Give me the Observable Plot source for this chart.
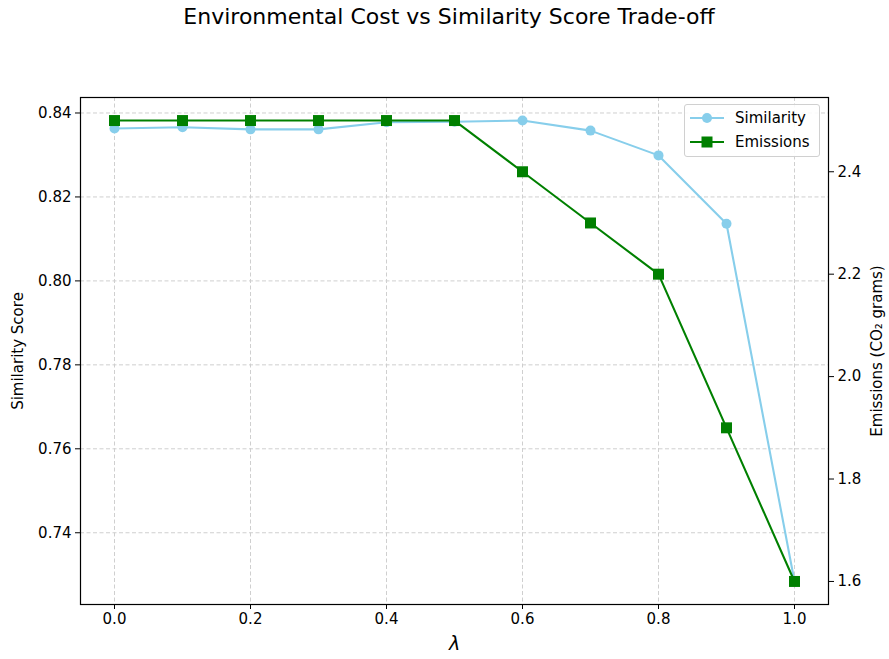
<!DOCTYPE html>
<html>
<head>
<meta charset="utf-8">
<script src="https://cdn.jsdelivr.net/npm/d3@7"></script>
<script src="https://cdn.jsdelivr.net/npm/@observablehq/plot@0.6"></script>
<style>
  html, body { margin: 0; padding: 0; background: #fff; }
  #wrap { position: relative; width: 889px; height: 659px; font-family: "DejaVu Sans", sans-serif; }
  #title { height: 40px; line-height: 34px; font-size: 22px; color: #000; position: relative; }
  #title span { position: absolute; left: 449px; transform: translateX(-50%); white-space: nowrap; }
  #legend { position: absolute; left: 684px; top: 104px; width: 136px; height: 53px; box-sizing: border-box;
            border: 1px solid #d0d0d0; border-radius: 3px; background: rgba(255,255,255,0.85); font-size: 15px; color: #000; }
  .row { position: absolute; left: 0; height: 20px; display: flex; align-items: center; }
  .row svg { margin-left: 5px; }
  .row span { margin-left: 11px; }
  #chart svg g[aria-label$="tick label"] { font-size: 15px; }
</style>
</head>
<body>
<div id="wrap">
  <div id="title"><span>Environmental Cost vs Similarity Score Trade-off</span></div>
  <div id="chart"></div>
  <div id="legend">
    <div class="row" style="top:3px"><svg width="34" height="14"><line x1="0" x2="34" y1="7" y2="7" stroke="#87CEEB" stroke-width="2"/><circle cx="17" cy="7" r="5" fill="#87CEEB"/></svg><span>Similarity</span></div>
    <div class="row" style="top:27px"><svg width="34" height="14"><line x1="0" x2="34" y1="7" y2="7" stroke="#008000" stroke-width="2"/><rect x="11.5" y="1.5" width="11" height="11" fill="#008000"/></svg><span>Emissions</span></div>
  </div>
</div>
<script>
const lambda = [0.0, 0.1, 0.2, 0.3, 0.4, 0.5, 0.6, 0.7, 0.8, 0.9, 1.0];
const similarity = [0.8363, 0.8366, 0.8361, 0.8361, 0.8378, 0.8379, 0.8382, 0.8358, 0.8299, 0.8136, 0.7284];
const emissions = [2.5, 2.5, 2.5, 2.5, 2.5, 2.5, 2.4, 2.3, 2.2, 1.9, 1.6];
const xTicks = [0.0, 0.2, 0.4, 0.6, 0.8, 1.0];
const simTicks = [0.74, 0.76, 0.78, 0.80, 0.82, 0.84];
const emTicks = [1.6, 1.8, 2.0, 2.2, 2.4];

function padded(arr) {
  const lo = d3.min(arr), hi = d3.max(arr), r = hi - lo;
  return [lo - 0.05 * r, hi + 0.05 * r];
}
const xDom = padded(lambda);
const sDom = padded(similarity);
const eDom = padded(emissions);
const e2s = d3.scaleLinear().domain(eDom).range(sDom);

const simData = lambda.map((l, i) => ({l, v: similarity[i]}));
const emData = lambda.map((l, i) => ({l, v: e2s(emissions[i])}));

const W = 889, H = 619;
const chart = Plot.plot({
  width: W, height: H,
  marginTop: 57, marginBottom: 55, marginLeft: 80, marginRight: 61,
  style: {fontFamily: "DejaVu Sans, sans-serif", fontSize: "15px", color: "#000", background: "#fff"},
  x: {domain: xDom},
  y: {domain: sDom},
  marks: [
    Plot.gridX(xTicks, {stroke: "#cfcfcf", strokeOpacity: 1, strokeDasharray: "4,2.5", strokeWidth: 1}),
    Plot.gridY(simTicks, {stroke: "#cfcfcf", strokeOpacity: 1, strokeDasharray: "4,2.5", strokeWidth: 1}),
    Plot.line(simData, {x: "l", y: "v", stroke: "#87CEEB", strokeWidth: 2.1}),
    Plot.dot(simData, {x: "l", y: "v", fill: "#87CEEB", r: 5}),
    Plot.line(emData, {x: "l", y: "v", stroke: "#008000", strokeWidth: 2.1}),
    Plot.dot(emData, {x: "l", y: "v", fill: "#008000", symbol: "square", r: 6.2}),
    Plot.frame({stroke: "#000", strokeWidth: 1.2}),
    Plot.axisX(xTicks, {anchor: "bottom", label: null, tickSize: 5, tickPadding: 4, tickFormat: d3.format(".1f"), fontSize: 15}),
    Plot.axisY(simTicks, {anchor: "left", label: null, tickSize: 5, tickPadding: 4, tickFormat: d3.format(".2f"), fontSize: 15}),
    Plot.axisY(emTicks.map(e => e2s(e)), {anchor: "right", label: null, tickSize: 5, tickPadding: 4, tickFormat: d => e2s.invert(d).toFixed(1), fontSize: 15}),
    Plot.text(["λ"], {frameAnchor: "bottom", dy: 45, fontSize: 19, fontStyle: "italic", fill: "#000"}),
    Plot.text(["Similarity Score"], {frameAnchor: "left", textAnchor: "middle", dx: -62, rotate: -90, fontSize: 15, fill: "#000"}),
    Plot.text(["Emissions (CO₂ grams)"], {frameAnchor: "right", textAnchor: "middle", dx: 49, rotate: -90, fontSize: 15, fill: "#000"})
  ]
});
document.getElementById("chart").appendChild(chart);
</script>
</body>
</html>
